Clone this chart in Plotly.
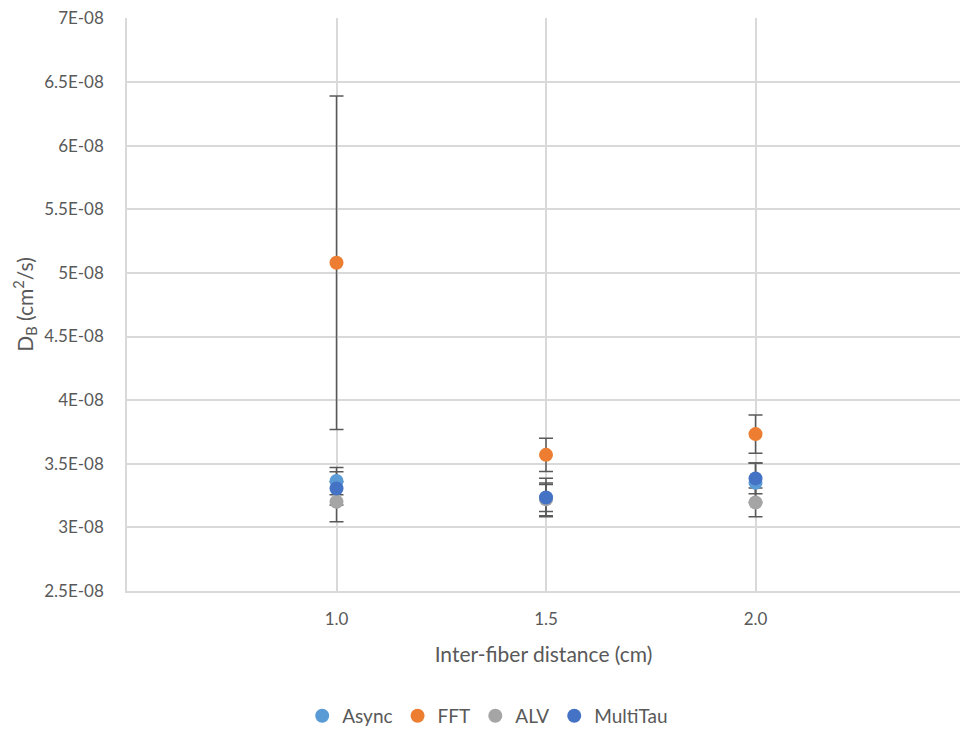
import plotly.graph_objects as go

# Inter-fiber distance (cm)
distance = [1.0, 1.5, 2.0]

# Blood-flow index D_B (cm^2/s) per correlator and its standard deviation
series_names = ["Async", "FFT", "ALV", "MultiTau"]
async_db = [3.364e-08, 3.230e-08, 3.350e-08]
async_err = [0.107e-08, 0.106e-08, 0.155e-08]
fft_db = [5.080e-08, 3.570e-08, 3.733e-08]
fft_err = [1.310e-08, 0.130e-08, 0.150e-08]
alv_db = [3.201e-08, 3.220e-08, 3.196e-08]
alv_err = [0.157e-08, 0.128e-08, 0.113e-08]
multitau_db = [3.306e-08, 3.235e-08, 3.385e-08]
multitau_err = [0.131e-08, 0.152e-08, 0.120e-08]

y_tick_vals = [2.5e-08, 3e-08, 3.5e-08, 4e-08, 4.5e-08, 5e-08, 5.5e-08, 6e-08, 6.5e-08, 7e-08]
y_tick_text = ["2.5E-08", "3E-08", "3.5E-08", "4E-08", "4.5E-08", "5E-08",
               "5.5E-08", "6E-08", "6.5E-08", "7E-08"]
x_tick_vals = [1.0, 1.5, 2.0]
x_tick_text = ["1.0", "1.5", "2.0"]

colors = ["#5B9BD5", "#ED7D31", "#A5A5A5", "#4472C4"]
values = [async_db, fft_db, alv_db, multitau_db]
errors = [async_err, fft_err, alv_err, multitau_err]

FONT = "Lato"
TXT = "#595959"

fig = go.Figure()

# error bars first so every marker sits on top of them
for name, v, e in zip(series_names, values, errors):
    fig.add_trace(go.Scatter(
        x=distance, y=v, mode="markers", showlegend=False, hoverinfo="skip",
        marker=dict(size=1, opacity=0),
        error_y=dict(type="data", array=e, visible=True, color="#595959",
                     thickness=1.5, width=7),
    ))

for name, v, c in zip(series_names, values, colors):
    fig.add_trace(go.Scatter(
        x=distance, y=v, mode="markers", name=name,
        marker=dict(size=14, color=c),
    ))

fig.update_layout(
    width=960, height=729,
    paper_bgcolor="white", plot_bgcolor="white",
    margin=dict(l=127, r=0, t=18, b=138, autoexpand=False),
    font=dict(family=FONT, size=17, color=TXT),
    showlegend=True,
    legend=dict(orientation="h", xref="container", yref="container",
                x=0.508, xanchor="center", y=0.018, yanchor="middle",
                font=dict(family=FONT, size=19, color=TXT), itemwidth=30,
                traceorder="normal"),
)

fig.update_xaxes(
    range=[0.5, 2.488], tickvals=x_tick_vals, ticktext=x_tick_text,
    automargin=False,
    showgrid=True, gridcolor="#D9D9D9", gridwidth=1.5,
    showline=True, linecolor="#D9D9D9", linewidth=1.5,
    zeroline=False, ticks="outside", ticklen=12, tickcolor="rgba(0,0,0,0)",
    tickfont=dict(family=FONT, size=17, color=TXT),
    title=dict(text="Inter-fiber distance (cm)", standoff=19,
               font=dict(family=FONT, size=21, color=TXT)),
)
fig.update_yaxes(
    range=[2.5e-08, 7.003e-08], tickvals=y_tick_vals, ticktext=y_tick_text,
    automargin=False,
    showgrid=True, gridcolor="#D9D9D9", gridwidth=1.5,
    showline=True, linecolor="#D9D9D9", linewidth=1.5,
    zeroline=False, ticks="outside", ticklen=18, tickcolor="rgba(0,0,0,0)",
    tickfont=dict(family=FONT, size=17, color=TXT),
    title=dict(text="D<sub>B</sub> (cm<sup>2</sup>/s)", standoff=5,
               font=dict(family=FONT, size=21, color=TXT)),
)

fig.write_html("out.html")
